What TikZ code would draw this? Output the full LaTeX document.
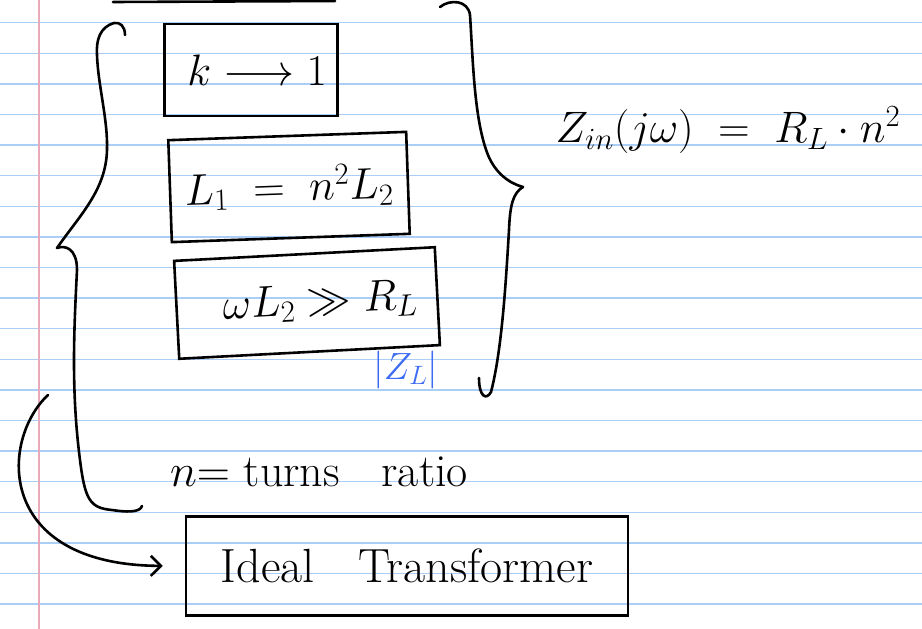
\documentclass[tikz,border=0pt]{standalone}
\usepackage{fix-cm}
\usepackage{amsmath,amssymb}
\usepackage{tikz}
\usetikzlibrary{arrows.meta,positioning,calc}
\definecolor{ink}{HTML}{000000}
\definecolor{ruleblue}{HTML}{ABCEF6}
\definecolor{marginpink}{HTML}{E8A9BA}
\definecolor{penblue}{HTML}{3D6CF2}
\tikzset{
  notebox/.style={rectangle,draw=ink,line width=2.6pt,text=ink,align=center,
    inner sep=0pt,font=\fontsize{44}{48}\selectfont},
  notetext/.style={text=ink,inner sep=0pt,font=\fontsize{44}{48}\selectfont},
  pen/.style={draw=ink,line width=2.6pt,line cap=round,line join=round},
  notearr/.style={pen,-{Straight Barb[length=10pt,width=20pt,line width=2.6pt]}},
  ruling/.style={draw=ruleblue,line width=1.4pt},
  marginline/.style={draw=marginpink,line width=1.4pt},
}
\begin{document}
\begin{tikzpicture}[x=1pt,y=-1pt]
  \useasboundingbox (0,0) rectangle (922,629);
  % ruled paper
  \foreach \k in {0,...,19}
    \draw[ruling] (0,22.7+30.6*\k) -- (922,22.7+30.6*\k);
  \draw[marginline] (39,0) -- (39,629);

  % boxes
  \draw[pen] (113,2) -- (335,1);
  \node[notebox,minimum width=173pt,minimum height=92pt] (kbox) at (251,70) {\hspace*{12pt}$k \longrightarrow 1$};
  \node[notebox,minimum width=238pt,minimum height=102pt,rotate=2] (lbox) at (289,187) {$L_1 \;=\; n^2 L_2$};
  \node[notebox,minimum width=261pt,minimum height=98pt,rotate=3] (wbox) at (307,303) {\hspace*{26pt}$\omega L_2 \gg R_L$};
  \node[notetext,text=penblue,font=\fontsize{38}{42}\selectfont,
    below left=4pt and 3pt of wbox.south east] (zl) {$|Z_L|$};
  \node[notetext] (zin) at (728,130) {$Z_{in}(j\omega) \;=\; R_L\cdot n^2$};
  \node[notetext,font=\fontsize{46}{50}\selectfont] (turns) at (319,472) {$n{=}$ turns\ \ \ ratio};
  \node[notebox,font=\fontsize{48}{52}\selectfont,minimum width=442pt,minimum height=99pt] (ideal) at (407,566) {Ideal\ \ \ Transformer};

  % braces
  \draw[pen] (125,35) .. controls (125,26) and (120,22) .. (114,23)
    .. controls (100,27) and (96,40) .. (97,55)
    .. controls (98,85) and (108,120) .. (107,150)
    .. controls (106,190) and (80,215) .. (57,248)
    .. controls (65,245) and (77,248) .. (77,270)
    .. controls (74,330) and (71,390) .. (80,460)
    .. controls (85,500) and (90,508) .. (112,510)
    .. controls (125,512) and (140,513) .. (142,506);
  \draw[pen] (440,7) .. controls (450,-1) and (468,0) .. (470,15)
    .. controls (473,60) and (474,120) .. (488,155)
    .. controls (495,172) and (508,183) .. (523,187)
    .. controls (513,193) and (510,205) .. (509,230)
    .. controls (506,280) and (502,350) .. (491,392)
    .. controls (486,401) and (479,396) .. (479,378);

  \coordinate (arrtail) at (48,395);
  \draw[notearr,shorten >=22pt] (arrtail) .. controls (0,440) and (-5,565) .. (ideal.west);
\end{tikzpicture}
\end{document}
